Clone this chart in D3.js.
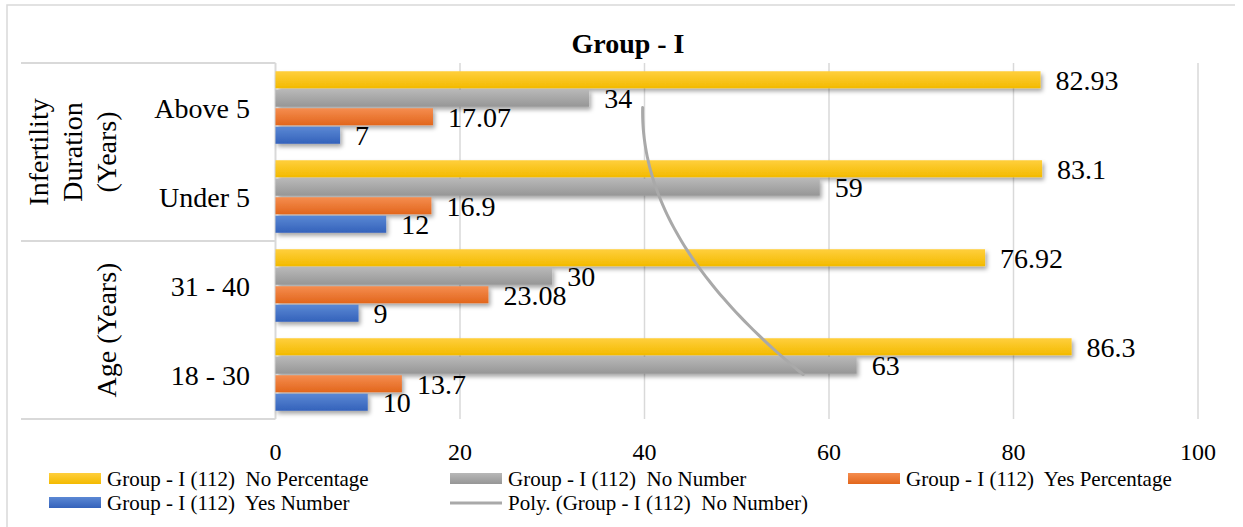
<!DOCTYPE html>
<html>
<head>
<meta charset="utf-8">
<script src="https://cdn.jsdelivr.net/npm/d3@7"></script>
<style>
  html, body { margin: 0; padding: 0; background: #fff; }
  svg { display: block; font-family: "Liberation Serif", "Times New Roman", serif; }
</style>
</head>
<body>
<svg id="chart" width="1243" height="527"></svg>
<script>
// Categories, top to bottom, with their group headings
const categories = ["Above 5", "Under 5", "31 - 40", "18 - 30"];
const groups = [
  { lines: ["Infertility", "Duration", "(Years)"], members: ["Above 5", "Under 5"] },
  { lines: ["Age (Years)"], members: ["31 - 40", "18 - 30"] }
];

// Series values, one entry per category (same order as categories)
const seriesNames = [
  "Group - I (112)  No Percentage",
  "Group - I (112)  No Number",
  "Group - I (112)  Yes Percentage",
  "Group - I (112)  Yes Number"
];
const noPercentage  = [82.93, 83.1, 76.92, 86.3];
const noNumber      = [34, 59, 30, 63];
const yesPercentage = [17.07, 16.9, 23.08, 13.7];
const yesNumber     = [7, 12, 9, 10];
const seriesValues = [noPercentage, noNumber, yesPercentage, yesNumber];

const xTicks = [0, 20, 40, 60, 80, 100];
const trendName = "Poly. (Group - I (112)  No Number)";

const colors = [
  { top: "#ffcf3d", bottom: "#f3ba00" },
  { top: "#b8b8b8", bottom: "#969696" },
  { top: "#f58d4f", bottom: "#e2661c" },
  { top: "#5b88d4", bottom: "#3462bb" }
];

const svg = d3.select("#chart");
const defs = svg.append("defs");

colors.forEach((c, i) => {
  const g = defs.append("linearGradient")
    .attr("id", "grad" + i).attr("x1", 0).attr("y1", 0).attr("x2", 0).attr("y2", 1);
  g.append("stop").attr("offset", "0%").attr("stop-color", c.top);
  g.append("stop").attr("offset", "100%").attr("stop-color", c.bottom);
});

const shadow = defs.append("filter").attr("id", "shadow")
  .attr("x", "-5%").attr("y", "-30%").attr("width", "115%").attr("height", "190%");
shadow.append("feDropShadow").attr("dx", 2).attr("dy", 3)
  .attr("stdDeviation", 2).attr("flood-color", "#000").attr("flood-opacity", 0.35);

// Outer frame (top and left edges visible)
svg.append("path").attr("d", "M7,530 V5 H1235")
  .attr("fill", "none").attr("stroke", "#d9d9d9").attr("stroke-width", 1.5);

// Scales
const plotTop = 63, plotBottom = 419;
const x = d3.scaleLinear().domain([0, 100]).range([275.5, 1198]);
const y = d3.scaleBand().domain(categories).range([plotTop, plotBottom])
  .paddingInner(0.185).paddingOuter(0.0925);
const ySeries = d3.scaleBand().domain(d3.range(seriesNames.length))
  .range([0, y.bandwidth()]).paddingInner(0.08).paddingOuter(0);

// Gridlines
svg.append("g").selectAll("line").data(xTicks.filter(t => t > 0)).join("line")
  .attr("x1", d => x(d)).attr("x2", d => x(d))
  .attr("y1", plotTop).attr("y2", plotBottom)
  .attr("stroke", "#d9d9d9").attr("stroke-width", 1.5);

// Category table lines
const tableLeft = 21;
const groupBounds = groups.map(g => {
  const first = g.members[0], last = g.members[g.members.length - 1];
  return {
    top: y(first) - y.step() * y.paddingInner() / 2,
    bottom: y(last) + y.bandwidth() + y.step() * y.paddingInner() / 2
  };
});
const hLines = [groupBounds[0].top, ...groupBounds.map(b => b.bottom)];
svg.append("g").selectAll("line").data(hLines).join("line")
  .attr("x1", tableLeft).attr("x2", x(0))
  .attr("y1", d => d).attr("y2", d => d)
  .attr("stroke", "#d9d9d9").attr("stroke-width", 2);
svg.append("line").attr("x1", x(0)).attr("x2", x(0))
  .attr("y1", plotTop).attr("y2", plotBottom)
  .attr("stroke", "#d9d9d9").attr("stroke-width", 2);

// Bars
const barsG = svg.append("g");
seriesValues.forEach((vals, si) => {
  barsG.append("g").selectAll("rect").data(vals).join("rect")
    .attr("x", x(0))
    .attr("y", (d, i) => y(categories[i]) + ySeries(si))
    .attr("width", d => x(d) - x(0))
    .attr("height", ySeries.bandwidth())
    .attr("fill", `url(#grad${si})`)
    .attr("filter", "url(#shadow)");
});

// Data labels
seriesValues.forEach((vals, si) => {
  svg.append("g").selectAll("text").data(vals).join("text")
    .attr("x", d => x(d) + 15)
    .attr("y", (d, i) => y(categories[i]) + ySeries(si) + ySeries.bandwidth() / 2 + 10)
    .attr("font-size", 28).attr("fill", "#000")
    .text(d => d);
});

// Polynomial (order 2) trendline of the No Number series.
// Category index runs from the bottom category (1) to the top (n).
const n = categories.length;
const pts = noNumber.map((v, i) => ({ t: n - i, v }));
function polyFit2(points) {
  // least squares for v = a + b t + c t^2
  let S = [[0,0,0],[0,0,0],[0,0,0]], R = [0,0,0];
  points.forEach(p => {
    const b = [1, p.t, p.t * p.t];
    for (let r = 0; r < 3; r++) {
      R[r] += b[r] * p.v;
      for (let c = 0; c < 3; c++) S[r][c] += b[r] * b[c];
    }
  });
  // Gaussian elimination
  const M = S.map((row, i) => [...row, R[i]]);
  for (let i = 0; i < 3; i++) {
    for (let k = i + 1; k < 3; k++) {
      const f = M[k][i] / M[i][i];
      for (let j = i; j < 4; j++) M[k][j] -= f * M[i][j];
    }
  }
  const coef = [0, 0, 0];
  for (let i = 2; i >= 0; i--) {
    let s = M[i][3];
    for (let j = i + 1; j < 3; j++) s -= M[i][j] * coef[j];
    coef[i] = s / M[i][i];
  }
  return coef;
}
const coef = polyFit2(pts);
const tToY = t => {
  const cat = categories[n - t];
  return y(cat) + y.bandwidth() / 2;
};
const tY = d3.scaleLinear().domain([1, n]).range([tToY(1), tToY(n)]);
const trendPts = d3.range(1, n + 0.0001, 0.05).map(t => [
  x(coef[0] + coef[1] * t + coef[2] * t * t), tY(t)
]);
svg.append("path")
  .attr("d", d3.line().curve(d3.curveLinear)(trendPts))
  .attr("fill", "none").attr("stroke", "#a9a9a9").attr("stroke-width", 3)
  .attr("stroke-linecap", "round");

// Category labels
svg.append("g").selectAll("text").data(categories).join("text")
  .attr("x", 250).attr("y", d => y(d) + y.bandwidth() / 2 + 10)
  .attr("text-anchor", "end").attr("font-size", 28).attr("fill", "#000")
  .text(d => d);

// Group labels (rotated)
const groupBaselineX = [[48, 82, 116], [116]];
groups.forEach((g, gi) => {
  const cy = (groupBounds[gi].top + groupBounds[gi].bottom) / 2;
  g.lines.forEach((line, li) => {
    const bx = groupBaselineX[gi][li];
    svg.append("text")
      .attr("transform", `translate(${bx},${cy}) rotate(-90)`)
      .attr("text-anchor", "middle").attr("font-size", 28).attr("fill", "#000")
      .text(line);
  });
});

// X-axis tick labels
svg.append("g").selectAll("text").data(xTicks).join("text")
  .attr("x", d => x(d)).attr("y", 460)
  .attr("text-anchor", "middle").attr("font-size", 24).attr("fill", "#000")
  .text(d => d);

// Title
svg.append("text").attr("x", 628).attr("y", 53)
  .attr("text-anchor", "middle").attr("font-size", 28).attr("font-weight", "bold")
  .attr("fill", "#000").text("Group - I");

// Legend
const legendItems = [
  { name: seriesNames[0], kind: "bar", idx: 0, col: 0, row: 0 },
  { name: seriesNames[1], kind: "bar", idx: 1, col: 1, row: 0 },
  { name: seriesNames[2], kind: "bar", idx: 2, col: 2, row: 0 },
  { name: seriesNames[3], kind: "bar", idx: 3, col: 0, row: 1 },
  { name: trendName, kind: "line", col: 1, row: 1 }
];
const colX = [49, 450, 848];
const rowY = [479, 503];
const legend = svg.append("g");
legendItems.forEach(it => {
  const lx = colX[it.col], ly = rowY[it.row];
  if (it.kind === "bar") {
    legend.append("rect").attr("x", lx).attr("y", ly - 6).attr("width", 52).attr("height", 11)
      .attr("fill", `url(#grad${it.idx})`);
  } else {
    legend.append("line").attr("x1", lx).attr("x2", lx + 52).attr("y1", ly).attr("y2", ly)
      .attr("stroke", "#a9a9a9").attr("stroke-width", 3);
  }
  legend.append("text").attr("x", lx + 58).attr("y", ly + 7)
    .attr("font-size", 21).attr("fill", "#000").attr("xml:space", "preserve")
    .style("white-space", "pre")
    .text(it.name);
});
</script>
</body>
</html>
